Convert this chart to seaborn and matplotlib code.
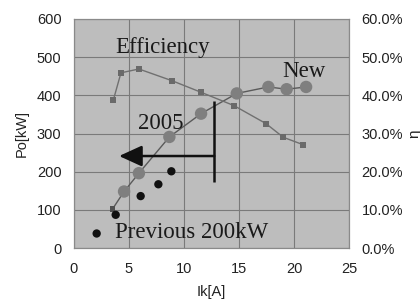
import numpy as np
import pandas as pd
import matplotlib
matplotlib.use("Agg")
import matplotlib.pyplot as plt
import seaborn as sns
from matplotlib.ticker import FuncFormatter, MultipleLocator

# ---- data ----
eff_ik = [3.57, 4.27, 5.9, 8.94, 11.55, 14.55, 17.45, 19.03, 20.8]
eff_pct = [38.7, 45.9, 46.9, 43.8, 40.8, 37.3, 32.6, 29.0, 27.1]

new_ik = [3.5, 4.55, 5.9, 8.67, 11.55, 14.8, 17.67, 19.33, 21.1]
new_kw = [102, 148, 196, 291, 352, 405, 422, 416, 422]

prev_ik = [3.79, 6.06, 7.67, 8.85]
prev_kw = [87, 136, 167, 201]

x_ticks = [0, 5, 10, 15, 20, 25]
y_ticks = [0, 100, 200, 300, 400, 500, 600]

sns.set_theme(style="white")
plt.rcParams['font.family'] = ['Liberation Sans', 'DejaVu Sans']

W, H = 420, 302
fig = plt.figure(figsize=(W / 100, H / 100), dpi=100)
fig.subplots_adjust(left=74 / W, right=349 / W, top=1 - 19 / H, bottom=1 - 248 / H)
ax = fig.add_subplot(111)
ax.set_facecolor('#bdbdbd')
fig.patch.set_facecolor('white')

ax2 = ax.twinx()

# efficiency (right axis)
eff_df = pd.DataFrame({'ik': eff_ik, 'eff': eff_pct})
sns.lineplot(data=eff_df, x='ik', y='eff', ax=ax2, sort=False, color='#707070',
             lw=1.0, marker='s', markersize=5, markeredgewidth=0,
             markerfacecolor='#6a6a6a', zorder=3)

# new (2005)
new_df = pd.DataFrame({'ik': new_ik, 'kw': new_kw})
sns.lineplot(data=new_df, x='ik', y='kw', ax=ax, sort=False, color='#5a5a5a',
             lw=1.0, zorder=3)
sns.scatterplot(data=new_df.iloc[1:], x='ik', y='kw', ax=ax, s=80,
                color='#7f7f7f', edgecolor='none', zorder=4)
sns.scatterplot(data=new_df.iloc[:1], x='ik', y='kw', ax=ax, s=18, marker='s',
                color='#505050', edgecolor='none', zorder=4)

# previous 200kW
prev_df = pd.DataFrame({'ik': prev_ik, 'kw': prev_kw})
sns.scatterplot(data=prev_df, x='ik', y='kw', ax=ax, s=36, color='#111111',
                edgecolor='none', zorder=4)
# legend-like marker before the label
ax.scatter([2.06], [38], s=36, color='#111111', edgecolor='none', zorder=4)

# arrow annotation
ax.plot([12.75, 12.75], [172, 385], color='#111111', lw=1.8, zorder=5,
        solid_capstyle='butt')
ax.annotate('', xy=(4.1, 241), xytext=(12.75, 241),
            arrowprops=dict(arrowstyle='-|>,head_length=0.7,head_width=0.32',
                            mutation_scale=20, color='#111111', lw=1.8,
                            shrinkA=0, shrinkB=0), zorder=5)

serif = dict(family=['Liberation Serif', 'DejaVu Serif'], fontsize=16.5,
             color='#1a1a1a')
ax.text(3.73, 512, 'Efficiency', ha='left', va='baseline', zorder=6, **serif)
ax.text(18.97, 447, 'New', ha='left', va='baseline', zorder=6, **serif)
ax.text(5.79, 311, '2005', ha='left', va='baseline', zorder=6, **serif)
ax.text(3.73, 26, 'Previous 200kW', ha='left', va='baseline', zorder=6, **serif)

# axes
ax.set_xlim(0, 25)
ax.set_ylim(0, 600)
ax2.set_ylim(0, 60)
ax.set_xticks(x_ticks)
ax.set_yticks(y_ticks)
ax2.yaxis.set_major_locator(MultipleLocator(10))
ax2.yaxis.set_major_formatter(FuncFormatter(lambda v, p: f'{v:.1f}%'))

ax.grid(True, color='#7a7a7a', lw=0.8)
ax.set_axisbelow(True)
for a in (ax, ax2):
    for s in a.spines.values():
        s.set_color('#8a8a8a')
        s.set_linewidth(0.8)
    a.tick_params(length=0, labelsize=10.5, colors='#222222')
ax.tick_params(axis='y', pad=9)
ax.tick_params(axis='x', pad=10)
ax2.tick_params(axis='y', pad=9)

ax.set_xlabel('Ik[A]', fontsize=10.5, color='#222222')
ax.set_ylabel('Po[kW]', fontsize=10.5, color='#222222')
ax.xaxis.set_label_coords(0.5, (248 - 285) / 229, transform=ax.transAxes)
ax.yaxis.set_label_coords((29 - 74) / 275, 0.5, transform=ax.transAxes)
ax2.set_ylabel('η', fontsize=11, color='#222222', rotation=90)
ax2.yaxis.set_label_coords((407 - 74) / 275, 0.5, transform=ax2.transAxes)

fig.savefig('out.png', dpi=100)
